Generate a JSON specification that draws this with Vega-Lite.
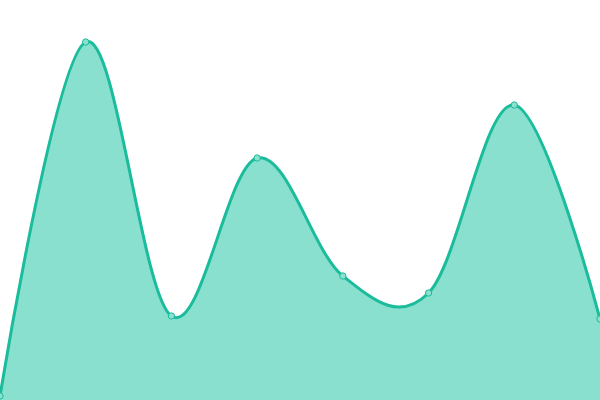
{
  "$schema": "https://vega.github.io/schema/vega-lite/v6.json",
  "width": 600,
  "height": 400,
  "autosize": {"type": "none"},
  "padding": 0,
  "data": {
    "values": [
      {"i": 0, "v": 4},
      {"i": 1, "v": 358},
      {"i": 2, "v": 84},
      {"i": 3, "v": 242},
      {"i": 4, "v": 124},
      {"i": 5, "v": 107},
      {"i": 6, "v": 295},
      {"i": 7, "v": 81}
    ]
  },
  "encoding": {
    "x": {"field": "i", "type": "quantitative", "axis": null, "scale": {"domain": [0, 7], "nice": false, "zero": false}},
    "y": {"field": "v", "type": "quantitative", "axis": null, "scale": {"domain": [0, 400], "nice": false}}
  },
  "layer": [
    {
      "mark": {"type": "area", "interpolate": "cardinal", "tension": -0.05, "color": "#89e0cf", "opacity": 1}
    },
    {
      "mark": {"type": "line", "interpolate": "cardinal", "tension": -0.05, "color": "#1abc9c", "strokeWidth": 3}
    },
    {
      "mark": {"type": "point", "filled": true, "fill": "#8be0cf", "stroke": "#1abc9c", "strokeWidth": 1, "size": 40, "opacity": 1}
    }
  ],
  "config": {
    "view": {"stroke": null},
    "background": "white"
  }
}
